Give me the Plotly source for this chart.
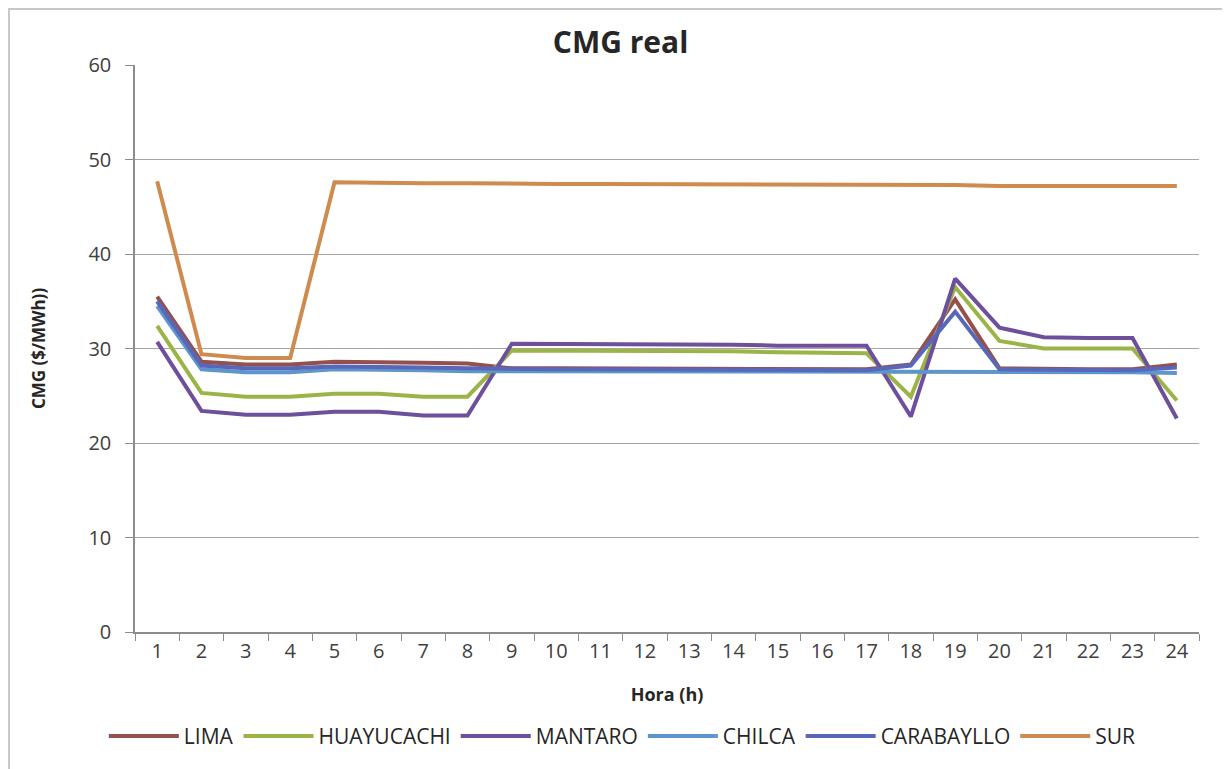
import plotly.graph_objects as go

# hours of the day
horas = [str(h) for h in range(1, 25)]

# marginal cost per node ($/MWh)
lima = [35.5, 28.6, 28.3, 28.3, 28.6, 28.6, 28.5, 28.4, 27.9, 27.9, 27.9, 27.8,
        27.8, 27.8, 27.8, 27.8, 27.8, 28.3, 35.2, 27.9, 27.8, 27.8, 27.8, 28.3]
huayucachi = [32.4, 25.3, 24.9, 24.9, 25.2, 25.2, 24.9, 24.9, 29.8, 29.8, 29.8, 29.7,
              29.7, 29.7, 29.6, 29.6, 29.5, 24.9, 36.5, 30.8, 30.0, 30.0, 30.0, 24.5]
mantaro = [30.7, 23.4, 23.0, 23.0, 23.3, 23.3, 22.9, 22.9, 30.5, 30.5, 30.5, 30.4,
           30.4, 30.4, 30.3, 30.3, 30.3, 22.8, 37.4, 32.2, 31.2, 31.1, 31.1, 22.6]
chilca = [34.5, 27.8, 27.5, 27.5, 27.8, 27.8, 27.7, 27.6, 27.6, 27.6, 27.6, 27.6,
          27.6, 27.5, 27.5, 27.5, 27.5, 27.5, 27.5, 27.5, 27.5, 27.5, 27.5, 27.4]
carabayllo = [35.0, 28.2, 27.9, 27.9, 28.1, 28.1, 28.0, 27.9, 27.8, 27.8, 27.8, 27.8,
              27.8, 27.8, 27.8, 27.7, 27.7, 28.2, 33.9, 27.8, 27.8, 27.8, 27.7, 28.0]
sur = [47.7, 29.4, 29.0, 29.0, 47.6, 47.5, 47.5, 47.5, 47.4, 47.4, 47.4, 47.4,
       47.3, 47.3, 47.3, 47.3, 47.3, 47.3, 47.3, 47.2, 47.2, 47.2, 47.2, 47.2]

series = [
    ('LIMA', lima, '#94504d'),
    ('HUAYUCACHI', huayucachi, '#9bb447'),
    ('MANTARO', mantaro, '#6e4f9c'),
    ('CHILCA', chilca, '#5e95cc'),
    ('CARABAYLLO', carabayllo, '#5867b8'),
    ('SUR', sur, '#cf8b4e'),
]

fig = go.Figure()
for name, vals, color in series:
    fig.add_trace(go.Scatter(x=horas, y=vals, name=name, mode='lines',
                             line=dict(color=color, width=4)))

# plot area in figure px (page body adds an 8px offset)
L, T, W, H = 127, 57, 1064, 567

# thin frame around the whole chart
fig.add_shape(type='rect', xref='paper', yref='paper',
              x0=(1 - L)/W, x1=(1219 - L)/W, y0=(T + H - 775)/H, y1=(T + H - 1)/H,
              line=dict(color='#c8c8c8', width=2), layer='below')

fig.update_layout(
    width=1230, height=769,
    margin=dict(l=L, r=1230 - L - W, t=T, b=769 - T - H),
    paper_bgcolor='white', plot_bgcolor='white',
    font=dict(family='Open Sans', color='#404040', size=18),
    title=dict(text='<b>CMG real</b>', x=0.498, xanchor='center', y=0.955, yanchor='middle',
               font=dict(size=30, color='#262626')),
    showlegend=True,
    legend=dict(orientation='h', x=0.458, xanchor='center', y=-0.184, yanchor='middle',
                font=dict(size=21, color='#262626'), itemwidth=70, tracegroupgap=0),
)

fig.update_xaxes(
    type='category', range=[-0.5, 23.5], tickson='boundaries', ticks='outside', ticklen=7,
    tickcolor='#8c8c8c', showline=True, linecolor='#8c8c8c', linewidth=1.5,
    showgrid=False, tickfont=dict(size=20, color='#404040'), automargin=False,
    title=dict(text='<b>Hora (h)</b>', font=dict(size=18, color='#262626'), standoff=26),
)
fig.update_yaxes(
    range=[0, 60], dtick=10, ticks='outside', ticklen=8, tickcolor='#8c8c8c',
    showline=True, linecolor='#8c8c8c', linewidth=1.5,
    showgrid=True, gridcolor='#a6a6a6', gridwidth=1, zeroline=False,
    tickfont=dict(size=20, color='#404040'), ticklabelstandoff=10, automargin=False,
    title=dict(text='<b>CMG ($/MWh))</b>', font=dict(size=17, color='#262626'), standoff=38),
)

fig.write_html('out.html')
